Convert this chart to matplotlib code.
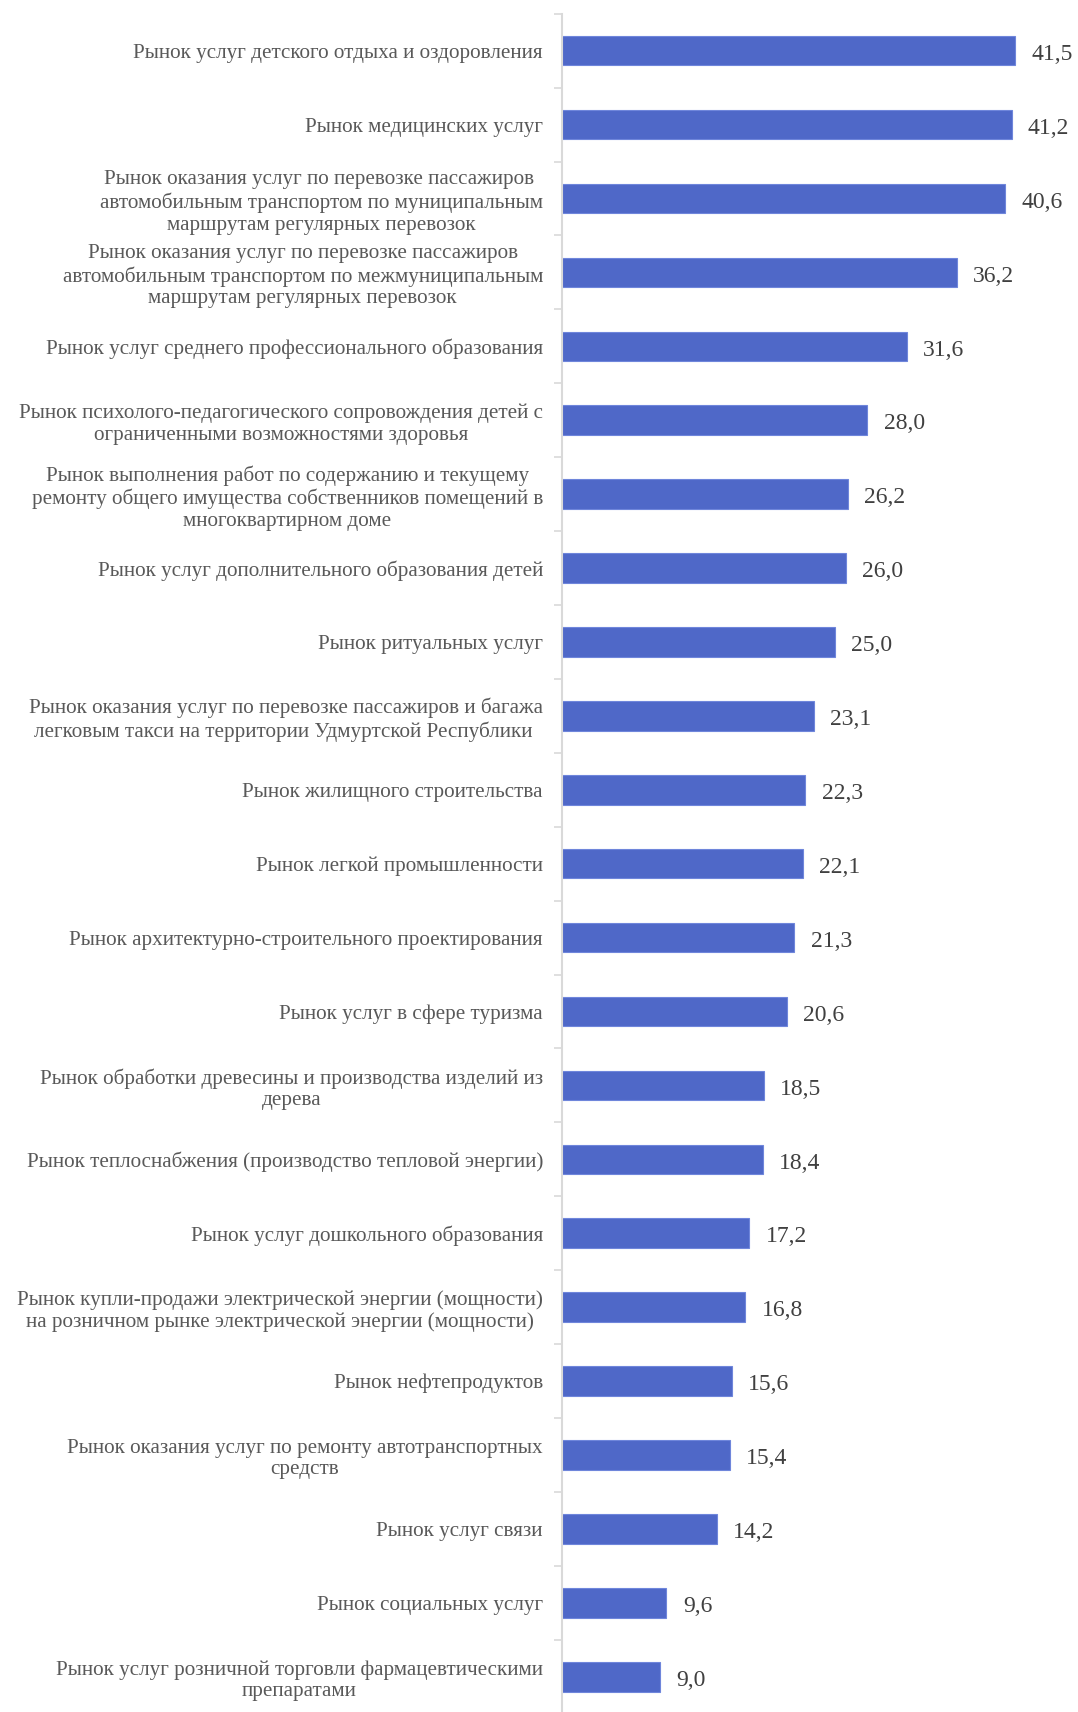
import matplotlib.pyplot as plt
import numpy as np

plt.rcParams['font.family'] = ['Liberation Serif', 'DejaVu Serif']

# категории (сверху вниз) и значения
labels = [
    'Рынок услуг детского отдыха и оздоровления',
    'Рынок медицинских услуг',
    'Рынок оказания услуг по перевозке пассажиров \nавтомобильным транспортом по муниципальным\nмаршрутам регулярных перевозок',
    'Рынок оказания услуг по перевозке пассажиров\nавтомобильным транспортом по межмуниципальным\nмаршрутам регулярных перевозок',
    'Рынок услуг среднего профессионального образования',
    'Рынок психолого-педагогического сопровождения детей с\nограниченными возможностями здоровья',
    'Рынок выполнения работ по содержанию и текущему\nремонту общего имущества собственников помещений в\nмногоквартирном доме',
    'Рынок услуг дополнительного образования детей',
    'Рынок ритуальных услуг',
    'Рынок оказания услуг по перевозке пассажиров и багажа\nлегковым такси на территории Удмуртской Республики ',
    'Рынок жилищного строительства',
    'Рынок легкой промышленности',
    'Рынок архитектурно-строительного проектирования',
    'Рынок услуг в сфере туризма',
    'Рынок обработки древесины и производства изделий из\nдерева',
    'Рынок теплоснабжения (производство тепловой энергии)',
    'Рынок услуг дошкольного образования',
    'Рынок купли-продажи электрической энергии (мощности)\nна розничном рынке электрической энергии (мощности)',
    'Рынок нефтепродуктов',
    'Рынок оказания услуг по ремонту автотранспортных\nсредств',
    'Рынок услуг связи',
    'Рынок социальных услуг',
    'Рынок услуг розничной торговли фармацевтическими\nпрепаратами',
]
values = [41.5, 41.2, 40.6, 36.2, 31.6, 28.0, 26.2, 26.0, 25.0, 23.1, 22.3, 22.1,
          21.3, 20.6, 18.5, 18.4, 17.2, 16.8, 15.6, 15.4, 14.2, 9.6, 9.0]

fig = plt.figure(figsize=(10.78, 17.12), dpi=100)
ax = fig.add_axes([0.521, -0.001, 0.464, 0.993])

y = np.arange(len(labels))
ax.barh(y, values, height=0.4, color='#4f68c8', edgecolor='#6f86db', linewidth=0.8)

for yi, v in zip(y, values):
    ax.text(v + 1.5, yi + 0.05, f'{v:.1f}'.replace('.', ','), va='center', ha='left',
            fontsize=17, color='#404040')

ax.set_xlim(0, 45.8)
ax.set_ylim(len(labels) - 0.5, -0.5)
ax.set_yticks(y)
ax.set_yticklabels(labels, fontsize=15.2, color='#595959', multialignment='center',
                   linespacing=1.2)
ax.tick_params(axis='y', which='major', length=0, pad=13.5)
ax.set_yticks(np.arange(-0.5, len(labels), 1.0), minor=True)
ax.tick_params(axis='y', which='minor', length=6, color='#d9d9d9', width=1.2)
ax.set_xticks([])

for s in ['top', 'right', 'bottom']:
    ax.spines[s].set_visible(False)
ax.spines['left'].set_color('#d9d9d9')
ax.spines['left'].set_linewidth(1.5)

fig.savefig('out.png', dpi=100)
